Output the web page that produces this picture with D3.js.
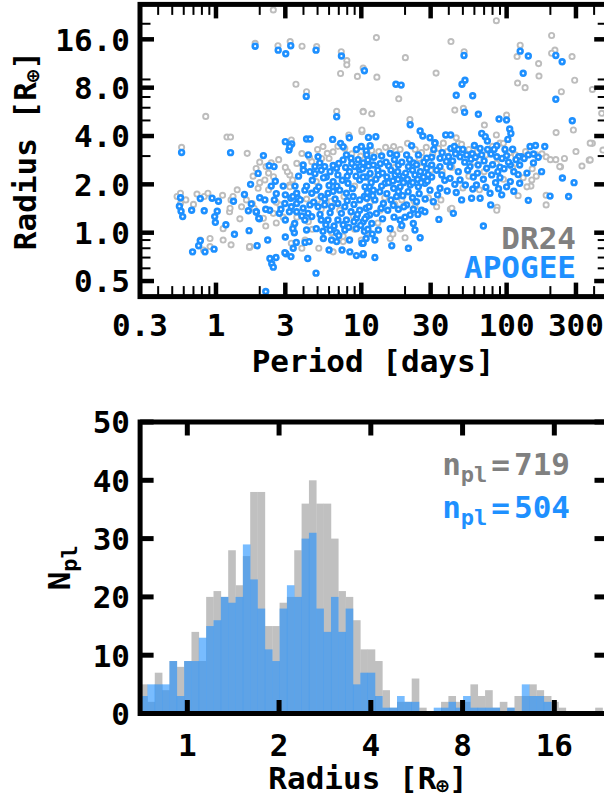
<!DOCTYPE html>
<html><head><meta charset="utf-8">
<script src="https://cdn.jsdelivr.net/npm/d3@7"></script>
<style>
body{margin:0;background:#fff}
text{font-family:"DejaVu Sans Mono",monospace;font-weight:bold}
</style>
</head><body>
<svg id="c" width="604" height="799"></svg>
<script>
// ---------------- DATA ----------------
const periodTicks = [0.3, 1, 3, 10, 30, 100, 300];
const periodTickLabels = ["0.3", "1", "3", "10", "30", "100", "300"];
const periodMinorTicks = [0.4,0.5,0.6,0.7,0.8,0.9,2,4,5,6,7,8,9,20,40,50,60,70,80,90,200,400];
const radiusTicks = [0.5, 1, 2, 4, 8, 16];
const radiusTickLabels = ["0.5", "1.0", "2.0", "4.0", "8.0", "16.0"];
const radiusMinorTicks = [0.6,0.7,0.8,0.9,3,5,6,7,9,20];
const histRadiusTicks = [1, 2, 4, 8, 16];
const histCountTicks = [0, 10, 20, 30, 40, 50];
const seriesNames = ["DR24", "APOGEE"];
const seriesTotals = [719, 504];

// DR24 planets: [period (days), radius (R_earth)]
const dr24Points = [
[2.48,24.4],[3.91,14.5],[3.24,15.5],[2.67,14.6],[4.93,14.4],[7.28,13.4],[7.95,11.8],[7.95,11.1],[7.2,9.8],[9.4,9.4],
[3.55,8.4],[4.2,7.55],[0.85,5.3],[1.19,3.94],[1.26,3.94],[6.77,5.7],[10.3,5.7],[10.1,4.25],[8.2,4.06],[3.3,3.78],
[0.58,3.4],[85,20.9],[12.7,16.4],[41.4,15.5],[20.1,12.3],[12.8,9.3],[32.7,9.86],[18.1,6.82],[10.3,5.66],[11.8,5.5],
[50.4,5.95],[124,14.7],[118,12.5],[166,11.3],[204,16.9],[215,13.7],[204,13.1],[282,12.5],[294,8.9],[167,9.45],
[119,8.55],[134,8.0],[238,7.55],[389,7.8],[451,5.54],[288,4.36],[219,4.2],[389,3.6],[21.6,5.07],[100,5.4],
[70.3,4.68],[85,4.06],[46.5,3.6],[51,13.4],[44,5.8],[370,2.83],[460,3.27],[376,3.61],[376,2.84],[218,2.85],
[235,2.57],[147,1.95],[187,1.71],[86,1.44],[41,1.40],[35.3,1.6],[18.7,1.06],[28.3,2.08],[21.6,2.08],[1.24,1.35],
[1.46,1.22],[1.12,0.9],[1.70,0.81],[1.89,2.51],[2.17,2.13],[2.49,2.23],[3.21,1.98],[3.37,2.13],[3.97,2.51],[5.33,2.9],
[5.83,3.12],[6.4,3.19],[7.7,3.35],[1.64,3.12],[0.83,1.68],[0.88,1.76],[1.27,1.6],[1.11,1.71],[1.31,1.68],[1.62,1.6],
[1.78,1.52],[1.83,1.42],[1.95,1.89],[0.54,1.68],[0.57,1.76],[0.74,1.74],[0.91,0.92],[0.91,0.82],[0.78,0.9],[1.27,0.84],
[1.72,0.82],[0.57,1.52],[10.1,4.36],[1.86,15.1],[10.3,10.6],[2.21,2.58],[2.4,2.72],[3.22,2.29],[3.9,3.11],[4.56,2.77],
[5.45,3.44],[3.22,1.93],[4.9,2.08],[2.76,1.49],[2.48,1.32],[2.12,1.23],[4.32,1.17],[3.3,0.86],[4.1,0.9],[6.4,0.76],
[6.25,1.0],[7.5,0.95],[10,0.90],[1.12,1.06],[1.25,1.42],[1.7,0.82],[0.82,0.78],[16.7,3.44],[36.7,3.61],[90,3.61],
[187,2.97],[232,2.58],[138,1.93],[149,2.13],[187,1.49],[85.5,1.38],[42,1.42],[18.5,1.06],[33,1.45],[13.5,1.38],
[11.5,0.99],[15.8,0.92],[23.4,1.45],
[2.0,2.05],[2.3,1.85],[2.6,1.55],[2.9,1.25],[3.4,1.10],[3.1,2.40],[3.6,2.70],[4.4,2.95],[5.0,3.30],[6.0,2.90],
[6.9,3.45],[8.6,3.10],[9.9,3.00],[11.8,3.25],[13.2,3.20],[14.7,3.40],[16.0,3.25],[18.5,3.30],[20.8,3.60],[23.5,3.30],
[26.0,3.15],[28.0,3.40],[31.0,3.10],[34.0,3.35],[39.0,3.20],[45.0,3.90],[49.0,3.55],[55.0,3.30],[63.0,3.20],[72.0,3.05],
[80.0,3.45],[95.0,3.60],[105,3.15],[115,3.05],[135,3.20],[160,3.05],[175,3.10],[200,2.85],[150,2.50],[130,2.20],
[95,2.15],[70,2.40],[55,2.25],[42,2.55],[36,2.40],[30,2.45],[26,2.55],[17,2.55],[13,2.30],[11.5,2.15],
[9.0,1.95],[7.6,1.68],[6.2,1.57],[5.0,1.60],[4.2,1.62],[5.3,1.40],[7.1,1.38],[8.8,1.27],[11.5,1.55],[14.5,1.65],
[17.0,1.50],[19.0,1.60],[23.0,1.58],[29.0,1.65],[9.0,1.05],[13.0,1.15],[16.5,0.98],[20.0,0.93],[7.5,0.88],[5.1,0.80],
[2.3,2.35],[2.7,2.85],[3.0,2.55],[2.0,2.75],[1.8,2.25],[2.6,1.15],[3.6,1.25],[2.2,1.10],[1.5,1.45],[1.4,1.85],
[4.6,1.05],[3.9,0.80],[0.62,1.60],[0.7,1.50],[25,2.90],[40,2.90],[60,2.75],[85,2.70],[110,2.55],[65,1.85],
[50,1.90],[120,1.70],[160,2.25],[250,2.90],[300,3.20],[330,2.60]
];

// APOGEE-revised planets: [period (days), radius (R_earth)]
const apogeePoints = [
[1.86,14.5],[2.68,13.7],[3.02,13.0],[3.27,14.6],[4.88,13.7],[7.3,12.6],[10.5,10.2],[4.18,7.06],[6.77,5.27],[4.2,3.83],
[4.44,3.83],[6.35,3.81],[8.27,3.9],[7.2,3.6],[7.5,3.43],[3.32,3.57],[11.2,3.92],[50.9,12.7],[17.3,8.4],[18.8,8.3],
[51.7,8.9],[49.3,8.4],[45,7.17],[58.4,7.12],[51.4,5.62],[63.9,5.46],[124,13.5],[141,12.6],[130,9.83],[218,12.7],
[241,11.6],[218,6.77],[283,4.98],[21.7,4.7],[25.4,4.3],[26.5,4.0],[29.7,3.9],[32.1,3.63],[38.1,4.06],[41.2,4.06],
[67.4,4.15],[71.3,3.96],[73.7,3.72],[88.7,5.1],[100,5.03],[105,4.42],[107,4.15],[102,3.81],[22.2,3.48],[12.6,3.96],
[72,1.92],[58.5,1.87],[31.3,1.56],
[0.58,3.16],[1.26,3.15],[0.57,1.65],[0.56,1.46],[0.575,1.36],[0.59,1.26],[0.68,1.38],[0.78,1.63],[0.83,1.37],[0.94,1.64],
[1.04,1.57],[1.02,1.36],[0.98,1.26],[0.99,1.16],[1.32,1.57],[1.17,1.12],[1.34,0.977],[1.69,1.03],[1.92,0.83],[0.69,0.76],
[0.76,0.83],[0.78,0.89],[0.84,0.76],[0.97,0.79],[1.57,1.73],[1.95,2.34],[1.73,2.0],[2.12,3.02],[2.32,2.61],[2.51,2.58],
[2.56,2.09],[1.67,1.37],[1.9,1.34],[1.99,1.22],[2.27,0.9],[2.59,0.70],[2.35,0.69],[2.42,0.64],[2.48,0.61],[3.03,0.74],
[3.28,0.71],[2.2,0.43],[4.28,0.69],[4.88,0.56],[3.57,0.87],[4.1,0.87],[4.38,0.88],[3.4,0.80],[2.98,0.75],[6.0,0.78],
[6.77,0.88],[7.37,0.78],[8.34,0.76],[10.1,0.86],[10.3,0.73],[3.0,0.94],[3.46,1.0],[4.2,1.04],[5.48,0.92],[6.25,0.9],
[1.75,1.51],[1.89,1.35],[1.97,1.23],[2.17,1.6],[2.52,1.6],[2.34,1.38],[2.73,1.32],[2.98,1.52],[3.27,1.64],[3.59,1.52],
[3.59,1.76],[3.18,3.27],
[3.22,3.44],[3.0,3.69],[3.98,2.64],[4.43,2.40],[4.8,2.58],[5.18,2.72],[5.6,2.58],[6.1,2.40],[6.75,2.52],[4.32,3.05],
[5.04,2.97],[5.74,2.22],[6.4,2.08],[6.9,2.29],[7.5,2.84],[7.9,3.05],[8.5,2.91],[9.25,3.3],[10,3.44],[10.8,3.23],
[8.3,2.40],[9.0,2.58],[9.75,2.46],[10.3,2.72],[11.1,2.84],[8.1,2.03],[9.75,2.13],[10.8,2.22],[11.4,1.93],[3.0,1.72],
[3.38,1.68],[3.66,1.64],[4.09,1.84],[4.56,1.76],[4.9,1.84],[5.3,1.68],[5.9,1.76],[6.4,1.81],[7.1,1.84],[7.9,1.76],
[8.8,1.68],[9.75,1.60],[10.5,1.68],[3.3,1.45],[3.59,1.35],[3.98,1.42],[4.43,1.49],[5.04,1.45],[5.6,1.49],[6.25,1.45],
[6.9,1.52],[7.7,1.45],[8.5,1.35],[9.75,1.38],[10.8,1.42],[3.0,1.20],[3.48,1.14],[4.09,1.2],[4.56,1.26],[5.3,1.2],
[5.9,1.2],[6.9,1.2],[7.9,1.2],[9.25,1.23],[10.3,1.17],[11.4,1.29],[3.38,1.06],[4.9,1.06],[5.45,1.02],[6.1,1.04],
[6.75,1.0],[7.7,1.04],[9.25,1.06],[10.5,1.02],[8.3,0.90],[10.8,0.92],[9.25,0.72],
[11.5,3.48],[32.1,3.61],[41.3,3.35],[43.7,3.44],[46.5,3.3],[60,3.49],[65.7,3.35],[85.5,3.48],[97.4,3.3],[110,3.31],
[126,2.97],[145,3.44],[158,3.49],[183,3.44],[10.9,3.05],[13.8,3.0],[15.8,3.11],[17.5,3.05],[20.5,3.05],[24.7,3.05],
[28.2,2.91],[30.5,2.95],[34.8,2.91],[39.8,2.97],[47.8,2.97],[53.1,3.05],[56.8,2.87],[67.3,3.05],[78.1,3.09],[85.5,2.97],
[100,3.02],[121,2.97],[141,3.05],[153,3.09],[9.8,2.58],[12.1,2.64],[13.5,2.69],[15.4,2.61],[18,2.64],[21.1,2.58],
[22.8,2.72],[28.2,2.52],[30.5,2.64],[34.8,2.58],[40.8,2.58],[46.5,2.40],[56,2.58],[63.7,2.64],[72.9,2.52],[90,2.56],
[106,2.64],[123,2.64],[153,2.72],[174,2.40],[242,2.19],[291,2.05],[199,1.69],[267,1.68],[141,1.59],[10.3,2.22],
[11.5,2.34],[13.1,2.29],[15,2.22],[17.1,2.29],[19.5,2.25],[23.4,2.29],[26.8,2.22],[30.5,2.22],[35.8,2.29],[40.8,2.18],
[47.8,2.13],[59,2.22],[69.2,2.15],[78.9,2.29],[90,2.20],[106,2.08],[123,2.03],[100,1.93],[112,1.81],[92.5,1.72],
[76.9,1.76],[65.7,1.64],[57.4,1.64],[49,1.60],[43,1.32],[34.2,1.21],[77.7,1.49],[10.6,1.93],[12.1,1.84],[14.6,2.03],
[16.7,1.89],[18.5,1.93],[21.7,1.98],[24.7,1.93],[27.4,2.03],[29.7,1.84],[34.8,1.89],[10.9,1.64],[12.4,1.60],[14.2,1.52],
[17.5,1.68],[20.5,1.49],[24,1.56],[26,1.38],[27.4,1.35],[21.7,1.29],[18.5,1.20],[10.9,1.26],[12.7,1.32],[11.8,1.14],
[13.1,1.04],[15.8,1.06],[19,1.11],[22.8,1.14],[23.4,1.04],[25.4,0.93],[21.1,0.80],[16.2,0.83],[12.4,0.90],[10.3,0.86],
[10.3,0.74],[12.4,0.70],[69.2,1.10],
[4.3,1.32],[4.7,1.55],[5.2,1.30],[5.6,1.62],[6.1,1.33],[6.6,1.62],[7.3,1.32],[8.0,1.58],[8.9,1.50],[9.4,1.30],
[4.2,1.95],[4.6,2.12],[5.1,1.93],[5.5,2.20],[6.0,1.97],[6.8,1.95],[7.4,2.12],[8.0,2.25],[8.7,1.88],[9.2,2.25],
[4.8,2.33],[5.3,2.45],[6.4,2.62],[7.0,2.70],[7.8,2.55],[8.6,2.70],[9.5,2.85],[10.2,2.50],[3.7,2.25],[4.0,2.45],
[3.5,1.95],[3.8,1.60],[3.2,1.35],[2.8,1.40],[2.6,1.75],[2.9,1.95],[2.4,1.95],[2.2,1.40],[2.0,1.65],[3.9,1.27],
[5.7,1.12],[6.5,1.10],[7.5,1.12],[8.2,1.08],[8.9,1.17],[9.9,1.11],[10.6,1.22],[11.1,1.05],[11.9,0.98],[7.0,0.96],
[11.2,2.60],[12.2,2.95],[13.0,2.45],[14.0,2.35],[14.8,2.75],[16.0,2.45],[16.9,2.85],[17.8,2.40],[19.0,2.75],[20.2,2.35],
[21.5,2.85],[22.5,2.45],[24.0,2.65],[25.5,2.40],[27.0,2.75],[28.8,2.30],[11.7,2.05],[12.6,2.15],[13.8,1.95],[15.4,2.05],
[16.5,2.10],[17.9,2.15],[19.5,2.05],[20.8,2.15],[22.6,2.05],[24.4,2.15],[25.8,2.05],[28.5,2.10],[11.0,1.78],[12.0,1.70],
[13.4,1.80],[15.0,1.75],[16.0,1.60],[18.0,1.80],[19.3,1.70],[21.0,1.80],[22.5,1.65],[25.0,1.75],[27.5,1.62],[13.7,1.42],
[15.2,1.38],[16.6,1.48],[18.0,1.40],[19.6,1.45],[22.8,1.40],[24.5,1.30],[14.0,1.22],[16.8,1.25],[20.0,1.25],[11.3,1.45],
[31.5,3.30],[36.0,3.15],[38.5,2.78],[42.5,2.80],[44.5,3.10],[50.0,3.30],[51.5,2.75],[54.0,2.45],[58.0,3.10],[61.0,2.95],
[63.0,2.35],[70.0,2.80],[74.0,3.30],[80.0,2.65],[82.0,3.30],[87.0,2.40],[93.0,2.90],[96.0,2.50],[103,2.75],[112,2.40],
[116,2.85],[132,2.90],[138,2.35],[165,2.95],[33.0,2.45],[37.5,2.12],[44.0,2.00],[52.0,1.98],[62.0,1.98],[84.0,2.05],
[33.5,1.72],[39.0,1.82],[45.0,1.78],[88.0,1.88],[120,2.30]
];

// Radius histogram: log-spaced bins starting at 0.7 R_earth, 0.08 (log2) wide
const histBinStart = 0.7;
const histBinLog2Width = 0.08;
const dr24Counts = [5,2,7,4,9,8,9,14,9,20,21,20,28,22,27,
  38,38,15,15,19,20,28,36,40,36,36,30,21,20,16,
  11,11,9,4,1,2,2,6,1,0,0,2,3,2,2,5,3,4,1,2,1,3,3,5,4,3,2,1,0,0,0,0,1];
const apogeeCounts = [3,5,5,5,9,3,9,9,13,15,16,20,19,20,29,
  23,18,11,9,18,22,20,30,31,18,14,20,14,18,5,
  7,7,3,1,1,3,2,2,0,0,1,1,2,1,3,1,1,1,1,0,1,0,5,3,3,2,0,0,0,0,0,0,0];

// ---------------- STYLE ----------------
const GRAY_PT = "#bdbdbd", BLUE = "#1e90ff", GRAY_TXT = "#808080", GRAY_BAR = "#c0c0c0";
const FS = 31;

const svg = d3.select("#c");

function ticksX(g, scale, vals, y0, len, w, dir) {
  g.selectAll(null).data(vals).join("line")
    .attr("x1", d => scale(d)).attr("x2", d => scale(d))
    .attr("y1", y0).attr("y2", y0 + dir*len).attr("stroke","#000").attr("stroke-width", w);
}
function ticksY(g, scale, vals, x0, len, w, dir) {
  g.selectAll(null).data(vals).join("line")
    .attr("y1", d => scale(d)).attr("y2", d => scale(d))
    .attr("x1", x0).attr("x2", x0 + dir*len).attr("stroke","#000").attr("stroke-width", w);
}

// ---------------- TOP PANEL ----------------
const xP = d3.scaleLog().domain([0.3, 500]).range([140, 608.2]);
const yR = d3.scaleLog().domain([0.4, 26.4]).range([296.6, 4.4]);
const tp = {l: xP.range()[0], r: xP.range()[1], t: yR.range()[1], b: yR.range()[0]};

svg.append("clipPath").attr("id","clipTop").append("rect")
  .attr("x", tp.l).attr("y", tp.t).attr("width", tp.r - tp.l).attr("height", tp.b - tp.t);

const gTop = svg.append("g").attr("clip-path","url(#clipTop)");
gTop.selectAll("circle.dr").data(dr24Points).join("circle")
  .attr("class","dr").attr("cx", d => xP(d[0])).attr("cy", d => yR(d[1])).attr("r", 2.6)
  .attr("fill","#fff").attr("stroke", GRAY_PT).attr("stroke-width", 1.9);
gTop.selectAll("circle.ap").data(apogeePoints).join("circle")
  .attr("class","ap").attr("cx", d => xP(d[0])).attr("cy", d => yR(d[1])).attr("r", 2.4)
  .attr("fill","#fff").attr("stroke", BLUE).attr("stroke-width", 2.6);

const gAx = svg.append("g");
ticksX(gAx, xP, periodTicks.slice(1), tp.b, 14, 4.5, -1);
ticksX(gAx, xP, periodTicks.slice(1), tp.t, 14, 4.5, 1);
ticksX(gAx, xP, periodMinorTicks, tp.b, 10.5, 2, -1);
ticksX(gAx, xP, periodMinorTicks, tp.t, 10.5, 2, 1);
ticksY(gAx, yR, radiusTicks, tp.l, 14, 4.5, 1);
ticksY(gAx, yR, radiusTicks, tp.r, 14, 4.5, -1);
ticksY(gAx, yR, radiusMinorTicks, tp.l, 10.5, 2, 1);
ticksY(gAx, yR, radiusMinorTicks, tp.r, 10.5, 2, -1);
gAx.append("rect").attr("x", tp.l).attr("y", tp.t).attr("width", tp.r-tp.l).attr("height", tp.b-tp.t)
  .attr("fill","none").attr("stroke","#000").attr("stroke-width",5);

gAx.selectAll(null).data(periodTicks).join("text")
  .attr("x", d => xP(d)).attr("y", 336).attr("text-anchor","middle").attr("font-size", FS)
  .text((d,i) => periodTickLabels[i]);
gAx.selectAll(null).data(radiusTicks).join("text")
  .attr("x", 130).attr("y", d => yR(d) + 11.3).attr("text-anchor","end").attr("font-size", FS)
  .text((d,i) => radiusTickLabels[i]);

svg.append("text").attr("x", 373).attr("y", 372).attr("text-anchor","middle")
  .attr("font-size", FS).text("Period [days]");
const yl = svg.append("text").attr("transform", `translate(36,${(tp.t+tp.b)/2}) rotate(-90)`)
  .attr("text-anchor","middle").attr("font-size", FS);
yl.append("tspan").text("Radius [R");
yl.append("tspan").attr("font-size", 21).attr("dy", 4).text("⊕");
yl.append("tspan").attr("dy", -4).text("]");

svg.append("text").attr("x", 576).attr("y", 248.5).attr("text-anchor","end").attr("font-size", FS)
  .attr("fill", GRAY_TXT).text(seriesNames[0]);
svg.append("text").attr("x", 576).attr("y", 277.5).attr("text-anchor","end").attr("font-size", FS)
  .attr("fill", BLUE).text(seriesNames[1]);

// ---------------- BOTTOM PANEL ----------------
const xH = d3.scaleLog().domain([0.7, 24]).range([140.1, 608]);
const yH = d3.scaleLinear().domain([0, 50]).range([713.5, 422]);
const bt = {l: xH.range()[0], r: xH.range()[1], t: yH.range()[1], b: yH.range()[0]};
const binEdges = d3.range(dr24Counts.length + 1).map(k => histBinStart * Math.pow(2, histBinLog2Width * k));

svg.append("clipPath").attr("id","clipBot").append("rect")
  .attr("x", bt.l).attr("y", bt.t).attr("width", bt.r - bt.l).attr("height", bt.b - bt.t);
const gBot = svg.append("g").attr("clip-path","url(#clipBot)");
gBot.selectAll("rect.g").data(dr24Counts).join("rect").attr("class","g")
  .attr("x", (d,i) => xH(binEdges[i])).attr("width", (d,i) => xH(binEdges[i+1]) - xH(binEdges[i]) + 0.3)
  .attr("y", d => yH(d)).attr("height", d => yH(0) - yH(d)).attr("fill", GRAY_BAR);
gBot.selectAll("rect.b").data(apogeeCounts).join("rect").attr("class","b")
  .attr("x", (d,i) => xH(binEdges[i])).attr("width", (d,i) => xH(binEdges[i+1]) - xH(binEdges[i]) + 0.3)
  .attr("y", d => yH(d)).attr("height", d => yH(0) - yH(d)).attr("fill", BLUE).attr("fill-opacity", 0.6);

const gAx2 = svg.append("g");
ticksX(gAx2, xH, histRadiusTicks, bt.b, 13.5, 5, -1);
ticksX(gAx2, xH, histRadiusTicks, bt.t, 13.5, 5, 1);
ticksY(gAx2, yH, histCountTicks, bt.l, 13.5, 5, 1);
ticksY(gAx2, yH, histCountTicks, bt.r, 13.5, 5, -1);
gAx2.append("rect").attr("x", bt.l).attr("y", bt.t).attr("width", bt.r-bt.l).attr("height", bt.b-bt.t)
  .attr("fill","none").attr("stroke","#000").attr("stroke-width",5);
gAx2.selectAll(null).data(histRadiusTicks).join("text")
  .attr("x", d => xH(d)).attr("y", 756).attr("text-anchor","middle").attr("font-size", FS).text(d => d);
gAx2.selectAll(null).data(histCountTicks).join("text")
  .attr("x", 130).attr("y", d => yH(d) + 11.3).attr("text-anchor","end").attr("font-size", FS).text(d => d);

const xl2 = svg.append("text").attr("x", 368).attr("y", 789).attr("text-anchor","middle").attr("font-size", FS);
xl2.append("tspan").text("Radius [R");
xl2.append("tspan").attr("font-size", 21).attr("dy", 4).text("⊕");
xl2.append("tspan").attr("dy", -4).text("]");

const yl2 = svg.append("text").attr("transform", `translate(70,${(bt.t+bt.b)/2}) rotate(-90)`)
  .attr("text-anchor","middle").attr("font-size", FS);
yl2.append("tspan").text("N");
yl2.append("tspan").attr("font-size", 22).attr("dy", 7).text("pl");

[[seriesTotals[0], GRAY_TXT, 475], [seriesTotals[1], BLUE, 518]].forEach(([n, col, y]) => {
  const t = svg.append("text").attr("x", 570).attr("y", y).attr("text-anchor","end")
    .attr("font-size", FS).attr("fill", col);
  t.append("tspan").text("n");
  t.append("tspan").attr("font-size", 22).attr("dy", 7).text("pl");
  t.append("tspan").attr("dy", -7).attr("dx", 4).text("=");
  t.append("tspan").attr("dx", 4).text(n);
});
</script>
</body></html>
